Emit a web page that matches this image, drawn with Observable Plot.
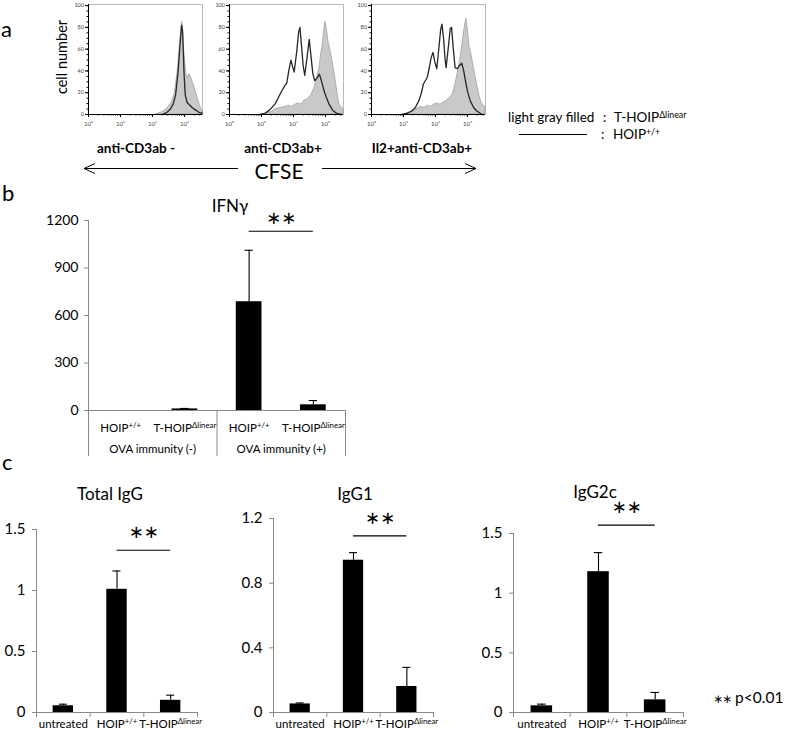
<!DOCTYPE html>
<html><head><meta charset="utf-8">
<script src="https://cdn.jsdelivr.net/npm/d3@7"></script>
<script src="https://cdn.jsdelivr.net/npm/@observablehq/plot@0.6"></script>
<style>
body{margin:0;background:#fff;}
#root{position:relative;width:787px;height:733px;background:#fff;font-family:Lato,"Open Sans",sans-serif;color:#000;overflow:hidden}
.abs{position:absolute;white-space:nowrap;line-height:1}
sup{font-size:65%;vertical-align:0.5em;line-height:0}
.ast{font-family:"DejaVu Sans",sans-serif;font-size:12px;letter-spacing:-1px}
</style></head><body><div id="root">
<svg id="deco" width="787" height="733" style="position:absolute;left:0;top:0">
 <g stroke="#000" stroke-width="1" fill="none">
  <line x1="84" y1="168.5" x2="238" y2="168.5"/>
  <polyline points="95,163.5 84,168.5 95,173.5"/>
  <line x1="322" y1="168.5" x2="476" y2="168.5"/>
  <polyline points="465,163.5 476,168.5 465,173.5"/>
  <line x1="519" y1="134.5" x2="587" y2="134.5"/>
 </g>
</svg>
</div>
<script>
// ---------- DATA ----------
// Panel a: CFSE histograms, x in log10 decades (10^0 .. ~10^3.56), y = cell number (% of max)
const cfseMaxDecade = 3.56;
const decadeTicks = [0, 1, 2, 3];
const countTicks = [0, 20, 40, 60, 80, 100];
const histTitles = ["anti-CD3ab -", "anti-CD3ab+", "Il2+anti-CD3ab+"];

const antiMinusGray = [[2.1,0],[2.3,2],[2.45,5],[2.6,11],[2.7,20],[2.78,38],[2.85,62],[2.9,80],[2.93,85],[2.96,72],[3.0,55],[3.05,38],[3.1,33],[3.15,37],[3.19,35],[3.25,30],[3.32,24],[3.4,16],[3.47,9],[3.52,5],[3.56,4]];
const antiMinusBlack = [[2.3,0],[2.45,2],[2.56,5],[2.65,10],[2.72,18],[2.8,40],[2.86,65],[2.91,82],[2.94,76],[2.98,40],[3.02,18],[3.08,11],[3.15,9],[3.25,6],[3.35,4],[3.45,2],[3.56,1]];

const antiPlusGray = [[1.1,0],[1.3,2],[1.45,5],[1.6,6],[1.75,7],[1.85,8],[1.95,7],[2.05,9],[2.15,10],[2.25,9],[2.35,13],[2.45,14],[2.56,18],[2.65,24],[2.71,30],[2.77,38],[2.81,42],[2.86,55],[2.9,62],[2.95,75],[3.0,85],[3.04,78],[3.1,65],[3.16,58],[3.22,48],[3.28,38],[3.33,28],[3.38,18],[3.43,10],[3.49,6],[3.53,6],[3.56,5]];
const antiPlusBlack = [[0.95,0],[1.1,1],[1.25,4],[1.43,10],[1.55,17],[1.64,22],[1.72,26],[1.79,29],[1.85,40],[1.92,50],[1.97,44],[2.02,39],[2.1,58],[2.16,76],[2.2,80],[2.24,66],[2.3,45],[2.35,36],[2.42,52],[2.49,69],[2.54,55],[2.6,38],[2.66,31],[2.72,33],[2.81,37],[2.88,30],[2.95,22],[3.02,16],[3.1,10],[3.22,4],[3.35,1],[3.48,0]];

const il2Gray = [[1.0,0],[1.2,2],[1.4,5],[1.55,7],[1.65,6],[1.77,8],[1.85,7],[1.95,9],[2.07,10],[2.15,9],[2.25,11],[2.33,12],[2.43,15],[2.53,18],[2.6,25],[2.65,32],[2.72,42],[2.77,50],[2.83,62],[2.9,78],[2.96,88],[3.0,80],[3.06,62],[3.12,55],[3.2,42],[3.28,30],[3.35,20],[3.42,12],[3.5,8],[3.56,7]];
const il2Black = [[0.95,0],[1.1,1],[1.25,3],[1.36,6],[1.47,12],[1.56,20],[1.62,28],[1.68,31],[1.74,34],[1.8,42],[1.86,52],[1.92,57],[1.98,48],[2.04,42],[2.1,60],[2.16,78],[2.2,83],[2.25,70],[2.3,50],[2.33,43],[2.4,62],[2.46,79],[2.5,80],[2.55,62],[2.61,43],[2.68,42],[2.75,45],[2.82,47],[2.88,40],[2.94,30],[3.0,21],[3.09,12],[3.2,6],[3.3,3],[3.45,0]];

// Panel b: IFNγ
const ifngGroups = ["OVA immunity (-)", "OVA immunity (+)"];
const ifngGenotypes = ["HOIP^+/+", "T-HOIP^Δlinear"];
const ifngMean = [0, 10, 687, 36];
const ifngSD = [0, 3, 325, 27];
const ifngTicks = [0, 300, 600, 900, 1200];
const ifngSig = [{from: 2, to: 3, y: 1132, label: "∗∗"}];

// Panel c: immunoglobulins
const igCategories = ["untreated", "HOIP^+/+", "T-HOIP^Δlinear"];
const totalIgGMean = [0.055, 1.01, 0.10];
const totalIgGSD = [0.013, 0.15, 0.042];
const igG1Mean = [0.053, 0.942, 0.161];
const igG1SD = [0.006, 0.047, 0.118];
const igG2cMean = [0.056, 1.18, 0.106];
const igG2cSD = [0.014, 0.16, 0.062];
const totalIgGTicks = [0, 0.5, 1, 1.5];
const igG1Ticks = [0, 0.4, 0.8, 1.2];
const igG2cTicks = [0, 0.5, 1, 1.5];

// ---------- HELPERS ----------
const root = document.getElementById("root");
const plotStyle = {fontFamily: "Lato, 'Open Sans', sans-serif", background: "transparent", overflow: "visible", color: "#000"};
function place(svg, left, top) {
  svg.style.position = "absolute"; svg.style.left = left + "px"; svg.style.top = top + "px";
  svg.style.maxWidth = "none"; svg.style.overflow = "visible"; svg.style.background = "transparent";
  root.appendChild(svg);
}
function txt(html, x, y, size, o = {}) {
  const d = document.createElement("div");
  d.className = "abs"; d.innerHTML = html;
  d.style.left = x + "px"; d.style.top = y + "px"; d.style.fontSize = size + "px";
  if (o.bold) d.style.fontWeight = "700";
  const ax = o.anchor === "start" ? "0" : o.anchor === "end" ? "-100%" : "-50%";
  d.style.transform = `translate(${ax},-50%)` + (o.rotate ? ` rotate(${o.rotate}deg)` : "");
  root.appendChild(d);
}
function supify(svg) {
  svg.querySelectorAll("text").forEach(t => {
    const nodes = t.querySelectorAll("tspan").length ? [...t.querySelectorAll("tspan")] : [t];
    nodes.forEach(n => {
      const s = n.textContent, k = s.indexOf("^");
      if (k < 0) return;
      n.textContent = s.slice(0, k);
      const sp = document.createElementNS("http://www.w3.org/2000/svg", "tspan");
      sp.setAttribute("style", "font-size:68%");
      sp.setAttribute("dy", "-0.55em");
      sp.textContent = s.slice(k + 1);
      n.appendChild(sp);
    });
  });
}
const supDigit = {0: "⁰", 1: "¹", 2: "²", 3: "³"};
const minorTicks = [];
for (let d = 0; d < 4; d++) for (let k = 2; k < 10; k++) { const v = d + Math.log10(k); if (v <= cfseMaxDecade) minorTicks.push(v); }
const astFont = "'DejaVu Sans', sans-serif";

// ---------- PANEL a ----------
function histogram(left, gray, black) {
  const ml = 30, mt = 4, pw = 114, ph = 110, mb = 22, mr = 6;
  const svg = Plot.plot({
    width: ml + pw + mr, height: mt + ph + mb,
    marginLeft: ml, marginRight: mr, marginTop: mt, marginBottom: mb,
    style: plotStyle,
    x: {domain: [0, cfseMaxDecade]},
    y: {domain: [0, 101]},
    marks: [
      Plot.frame({stroke: "#b8b8b8"}),
      Plot.areaY(gray, {x: d => d[0], y: d => d[1], fill: "#c9c9c9", stroke: "#a0a0a0", strokeWidth: 0.8}),
      Plot.lineY(black, {x: d => d[0], y: d => d[1], stroke: "#262626", strokeWidth: 1.3}),
      Plot.ruleX([0], {stroke: "#000"}),
      Plot.ruleY([0], {stroke: "#000"}),
      Plot.axisX({ticks: decadeTicks, tickSize: 3, tickPadding: 4, tickFormat: d => "10" + supDigit[d], fontSize: 6, color: "#444", stroke: "#000", label: null}),
      Plot.axisX({ticks: minorTicks, tickSize: 1.5, tickFormat: () => "", stroke: "#000", label: null}),
      Plot.axisY({ticks: countTicks, tickSize: 3, tickPadding: 1.5, fontSize: 5.5, color: "#444", stroke: "#000", label: null}),
      Plot.axisY({ticks: d3.range(0, 101, 5), tickSize: 1.5, tickFormat: () => "", stroke: "#000", label: null})
    ]
  });
  place(svg, left - ml, 0);
}
histogram(88, antiMinusGray, antiMinusBlack);
histogram(229, antiPlusGray, antiPlusBlack);
histogram(371, il2Gray, il2Black);

txt("a", 1, 29, 22, {anchor: "start"});
txt("cell number", 62, 57, 14.5, {rotate: -90});
txt(histTitles[0], 136, 149, 13.5, {bold: true});
txt(histTitles[1], 283, 149, 13.5, {bold: true});
txt(histTitles[2], 422, 149, 13.5, {bold: true});
txt("CFSE", 279, 170, 21);
txt("light gray filled", 508, 118, 13.5, {anchor: "start"});
txt(":", 603, 118, 13.5, {anchor: "start"});
txt("T-HOIP<sup>Δlinear</sup>", 614, 118, 13.5, {anchor: "start"});
txt(":", 601, 135, 13.5, {anchor: "start"});
txt("HOIP<sup>+/+</sup>", 613, 135, 13.5, {anchor: "start"});

// ---------- PANEL b ----------
{
  const rows = ifngMean.map((m, i) => ({i, mean: m, sd: ifngSD[i], geno: ifngGenotypes[i % 2], group: ifngGroups[Math.floor(i / 2)]}));
  const pad = 0.3, cap = 0.065;
  const ml = 60, mt = 30, pw = 257, ph = 190, mb = 55, mr = 12;
  const withErr = rows.filter(d => d.sd > 0);
  const bounds = d3.range(0, rows.length + 1, ifngGenotypes.length);
  const svg = Plot.plot({
    width: ml + pw + mr, height: mt + ph + mb,
    marginLeft: ml, marginRight: mr, marginTop: mt, marginBottom: mb,
    style: plotStyle,
    x: {domain: [0, rows.length]},
    y: {domain: [0, 1200]},
    marks: [
      Plot.rect(rows.filter(d => d.mean > 0), {x1: d => d.i + pad, x2: d => d.i + 1 - pad, y1: () => 0, y2: "mean", fill: "#000"}),
      Plot.ruleX(withErr, {x: d => d.i + 0.5, y1: "mean", y2: d => d.mean + d.sd, stroke: "#000", strokeWidth: 1.1}),
      Plot.ruleY(withErr, {y: d => d.mean + d.sd, x1: d => d.i + 0.5 - cap, x2: d => d.i + 0.5 + cap, stroke: "#000", strokeWidth: 1.1}),
      Plot.ruleX([0], {stroke: "#888"}),
      Plot.ruleY([0], {stroke: "#888"}),
      Plot.axisY({ticks: ifngTicks, tickSize: 4, tickPadding: 6, fontSize: 14, tickFormat: d => String(d), color: "#000", stroke: "#888", label: null}),
      Plot.axisX({ticks: bounds, tickSize: 46, tickFormat: () => "", stroke: "#888", label: null}),
      Plot.text(rows, {x: d => d.i + 0.5, y: () => 0, dy: 18, text: "geno", fontSize: 11.5}),
      Plot.text(ifngGroups, {x: (d, i) => i * ifngGenotypes.length + ifngGenotypes.length / 2, y: () => 0, dy: 39, text: d => d, fontSize: 11.5}),
      Plot.ruleY(ifngSig, {y: "y", x1: d => d.from + 0.5, x2: d => d.to + 0.5, stroke: "#000", strokeWidth: 1.2}),
      Plot.text(ifngSig, {x: d => (d.from + d.to) / 2 + 0.5, y: "y", dy: -13, text: "label", fontSize: 18, fontFamily: astFont})
    ]
  });
  supify(svg);
  place(svg, 88 - ml, 220 - mt);
}
txt("b", 2, 193, 22, {anchor: "start"});
txt("IFNγ", 230, 205, 17);

// ---------- PANEL c ----------
function igChart({axisLeft, pw, yTopPx, max, ticks, mean, sd, sigY}) {
  const rows = mean.map((m, i) => ({i, mean: m, sd: sd[i], cat: igCategories[i]}));
  const pad = 0.31, cap = 0.075;
  const svgTop = 470, ml = 45, mr = 10, mt = yTopPx - svgTop, ph = 712 - yTopPx, mb = 21;
  const sig = [{from: 1, to: 2, y: sigY, label: "∗∗"}];
  const svg = Plot.plot({
    width: ml + pw + mr, height: mt + ph + mb,
    marginLeft: ml, marginRight: mr, marginTop: mt, marginBottom: mb,
    style: plotStyle,
    x: {domain: [0, rows.length]},
    y: {domain: [0, max]},
    marks: [
      Plot.rect(rows, {x1: d => d.i + pad, x2: d => d.i + 1 - pad, y1: () => 0, y2: "mean", fill: "#000"}),
      Plot.ruleX(rows, {x: d => d.i + 0.5, y1: "mean", y2: d => d.mean + d.sd, stroke: "#000", strokeWidth: 1.1}),
      Plot.ruleY(rows, {y: d => d.mean + d.sd, x1: d => d.i + 0.5 - cap, x2: d => d.i + 0.5 + cap, stroke: "#000", strokeWidth: 1.1}),
      Plot.ruleX([0], {stroke: "#888"}),
      Plot.ruleY([0], {stroke: "#888"}),
      Plot.axisY({ticks, tickSize: 4, tickPadding: 7, fontSize: 15, tickFormat: d => String(d), color: "#000", stroke: "#888", label: null}),
      Plot.axisX({ticks: d3.range(rows.length + 1), tickSize: 5, tickFormat: () => "", stroke: "#888", label: null}),
      Plot.text(rows, {x: d => d.i + 0.5, y: () => 0, dy: 12, text: "cat", fontSize: 11.5}),
      Plot.ruleY(sig, {y: "y", x1: d => d.from + 0.5, x2: d => d.to + 0.5, stroke: "#000", strokeWidth: 1.2}),
      Plot.text(sig, {x: d => (d.from + d.to) / 2 + 0.5, y: "y", dy: -18, text: "label", fontSize: 18, fontFamily: astFont})
    ]
  });
  supify(svg);
  place(svg, axisLeft - ml, svgTop);
}
igChart({axisLeft: 36, pw: 161, yTopPx: 529, max: 1.5, ticks: totalIgGTicks, mean: totalIgGMean, sd: totalIgGSD, sigY: 1.33});
igChart({axisLeft: 273, pw: 160, yTopPx: 518, max: 1.2, ticks: igG1Ticks, mean: igG1Mean, sd: igG1SD, sigY: 1.093});
igChart({axisLeft: 513, pw: 170, yTopPx: 533, max: 1.5, ticks: igG2cTicks, mean: igG2cMean, sd: igG2cSD, sigY: 1.57});

txt("c", 2, 462, 22, {anchor: "start"});
txt("Total IgG", 110, 493, 17);
txt("IgG1", 355, 493, 17);
txt("IgG2c", 595, 491, 17);
txt('<span class="ast">∗∗</span> p&lt;0.01', 713, 698, 15.5, {anchor: "start"});
</script></body></html>
